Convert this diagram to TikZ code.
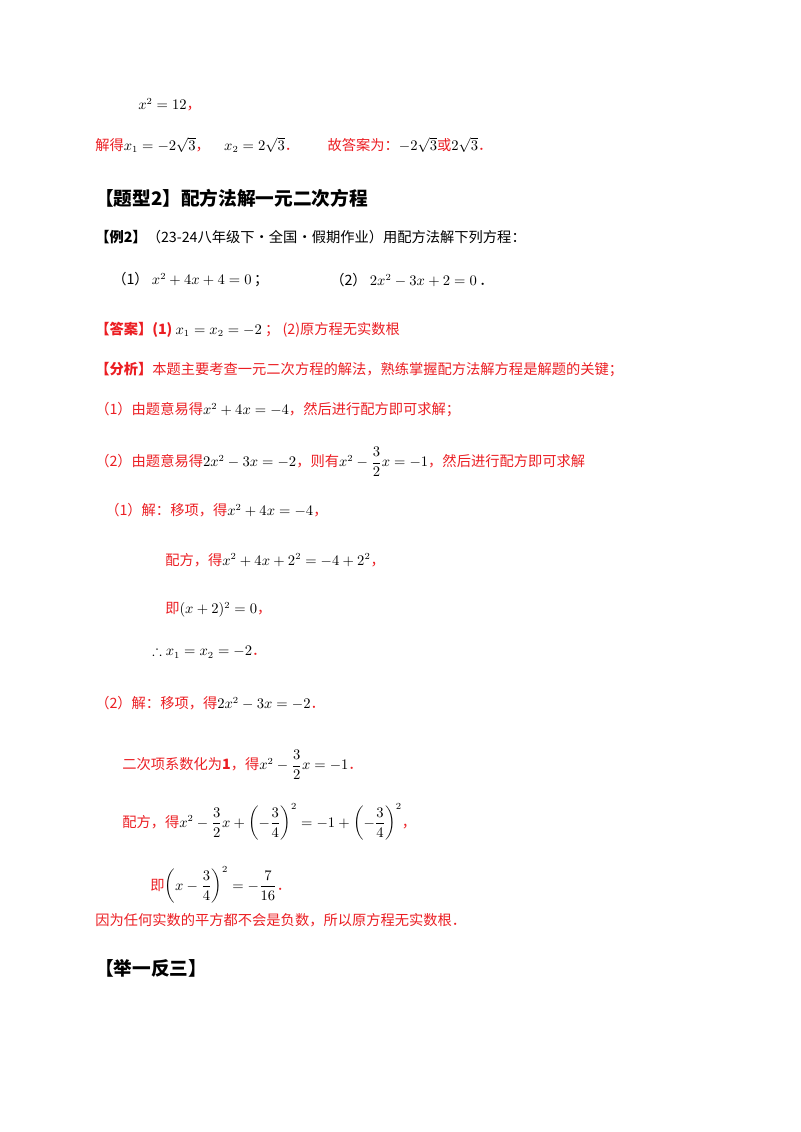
\documentclass[tikz,border=0pt]{standalone}
\usepackage{amsmath,amssymb}
\usepackage{fontspec}
\newfontfamily\cjk{Noto Sans CJK SC}
\definecolor{rd}{RGB}{235,30,35}
\newcommand{\rt}[1]{\textcolor{rd}{#1}}
\begin{document}
\begin{tikzpicture}[x=0.75pt,y=-0.75pt,
  t/.style={anchor=west,inner sep=0pt,font=\cjk\fontsize{10.7pt}{12pt}\selectfont},
  h/.style={anchor=west,inner sep=0pt,font=\cjk\bfseries\fontsize{14pt}{16pt}\selectfont}]
\useasboundingbox (0,0) rectangle (800,1132);
\node[t] (a1) at (138,105) {$x^2=12$\rt{，}};
\node[t] (a2) at (95,145) {\rt{解得}$x_1=-2\sqrt3$\rt{，}\quad$x_2=2\sqrt3$\rt{．}\qquad\rt{故答案为：}$-2\sqrt3$\rt{或}$2\sqrt3$\rt{．}};
\node[h] (a3) at (95,198) {【题型2】配方法解一元二次方程};
\node[t] (a4) at (95,237) {\textbf{【例2】}（23-24八年级下·全国·假期作业）用配方法解下列方程：};
\node[t] (a5) at (112,280) {（1）\ $x^2+4x+4=0$\,；};
\node[t] (a6) at (330,280) {（2）\ $2x^2-3x+2=0$\,．};
\node[t] (a7) at (95,330) {\rt{\textbf{【答案】(1)}}\ $x_1=x_2=-2$\ \rt{；\ (2)原方程无实数根}};
\node[t] (a8) at (95,370) {\rt{\textbf{【分析】}本题主要考查一元二次方程的解法，熟练掌握配方法解方程是解题的关键；}};
\node[t] (a9) at (95,410) {\rt{（1）由题意易得}$x^2+4x=-4$\rt{，然后进行配方即可求解；}};
\node[t] (a10) at (95,462) {\rt{（2）由题意易得}$2x^2-3x=-2$\rt{，则有}$x^2-\dfrac32x=-1$\rt{，然后进行配方即可求解}};
\node[t] (a11) at (105,510) {\rt{（1）解：移项，得}$x^2+4x=-4$\rt{，}};
\node[t] (a12) at (165,560) {\rt{配方，得}$x^2+4x+2^2=-4+2^2$\rt{，}};
\node[t] (a13) at (165,610) {\rt{即}$(x+2)^2=0$\rt{，}};
\node[t] (a14) at (152,652) {$\therefore x_1=x_2=-2$\rt{．}};
\node[t] (a15) at (95,703) {\rt{（2）解：移项，得}$2x^2-3x=-2$\rt{．}};
\node[t] (a16) at (122,765) {\rt{二次项系数化为\textbf{1}，得}$x^2-\dfrac32x=-1$\rt{．}};
\node[t] (a17) at (122,822) {\rt{配方，得}$x^2-\dfrac32x+\left(-\dfrac34\right)^2=-1+\left(-\dfrac34\right)^2$\rt{，}};
\node[t] (a18) at (150,885) {\rt{即}$\left(x-\dfrac34\right)^2=-\dfrac{7}{16}$\rt{．}};
\node[t] (a19) at (95,920) {\rt{因为任何实数的平方都不会是负数，所以原方程无实数根．}};
\node[h] (a20) at (95,968) {【举一反三】};
\end{tikzpicture}
\end{document}
